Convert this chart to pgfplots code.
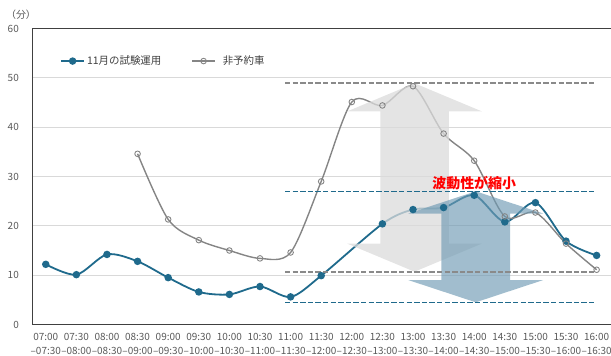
\documentclass[border=0pt]{standalone}
\usepackage{pgfplots}
\pgfplotsset{compat=1.18}
\usepackage{fontspec}
\setmainfont{Noto Sans CJK JP}
\definecolor{serblue}{HTML}{1F6A8C}
\definecolor{sergray}{HTML}{858585}
\definecolor{dashgray}{HTML}{8A8A8A}
\definecolor{tickgray}{HTML}{595959}
\definecolor{gridgray}{HTML}{D9D9D9}
\definecolor{axisdark}{HTML}{404040}
\definecolor{arrowblue}{HTML}{6E9AB3}
\begin{document}
\begin{tikzpicture}
\begin{axis}[
  at={(0bp,0bp)}, anchor=south west,
  scale only axis, width=579bp, height=296bp,
  xmin=-0.45, xmax=18.47, ymin=0, ymax=60,
  ytick={0,10,...,60},
  xtick={0,...,18},
  xticklabels={{07:00\\–07:30},{07:30\\–08:00},{08:00\\–08:30},{08:30\\–09:00},{09:00\\–09:30},{09:30\\–10:00},{10:00\\–10:30},{10:30\\–11:00},{11:00\\–11:30},{11:30\\–12:00},{12:00\\–12:30},{12:30\\–13:00},{13:00\\–13:30},{13:30\\–14:00},{14:00\\–14:30},{14:30\\–15:00},{15:00\\–15:30},{15:30\\–16:00},{16:00\\–16:30}},
  major tick length=0pt,
  axis line style={draw=none},
  ymajorgrids, major grid style={draw=gridgray, line width=0.8bp},
  /pgf/number format/assume math mode=true,
  yticklabel style={anchor=east, inner sep=0pt, xshift=-13bp, font=\fontsize{10}{12}\selectfont, text=tickgray},
  xticklabel style={anchor=north, inner sep=0pt, yshift=-9bp, align=center, font=\fontsize{10}{14}\selectfont, text=tickgray},
  legend style={at={(0.0484,0.890)}, anchor=west, draw=none, fill=none, inner sep=0pt,
    font=\fontsize{10.5}{12}\selectfont, text=axisdark, legend columns=2,
    /tikz/every even column/.append style={column sep=28bp}},
  legend cell align=left,
  legend image code/.code={\draw[mark repeat=2,mark phase=2] plot coordinates {(0bp,0bp)(11.5bp,0bp)(23bp,0bp)};},
]
\addplot[serblue, line width=1.8bp, smooth, tension=0.5, mark=*, mark size=2.8bp, mark options={fill=serblue, draw=serblue}]
 coordinates {(0,12.2)(1,10.1)(2,14.2)(3,12.8)(4,9.5)(5,6.6)(6,6.1)(7,7.7)(8,5.6)(9,9.9)(11,20.4)(12,23.3)(13,23.7)(14,26.2)(15,20.8)(16,24.7)(17,16.9)(18,14.0)};
\addlegendentry{11月の試験運用}
\addplot[sergray, line width=1.4bp, smooth, tension=0.5, mark=o, mark size=2.8bp, mark options={fill=white, draw=sergray, line width=0.9bp}]
 coordinates {(3,34.6)(4,21.3)(5,17.1)(6,15.0)(7,13.4)(8,14.6)(9,29.0)(10,45.1)(11,44.4)(12,48.3)(13,38.7)(14,33.2)(15,21.9)(16,22.7)(17,16.4)(18,11.1)};
\addlegendentry{\hspace{5bp}非予約車}
% arrows
\fill[gray!28, opacity=0.75] (axis cs:12.05,48.9) -- (axis cs:14.25,43.2) -- (axis cs:13.17,43.2) -- (axis cs:13.17,16.4) -- (axis cs:14.25,16.4) -- (axis cs:12.05,10.7) -- (axis cs:9.85,16.4) -- (axis cs:10.93,16.4) -- (axis cs:10.93,43.2) -- (axis cs:9.85,43.2) -- cycle;
\fill[arrowblue, opacity=0.65] (axis cs:14.05,27.0) -- (axis cs:16.25,22.5) -- (axis cs:15.17,22.5) -- (axis cs:15.17,9.0) -- (axis cs:16.25,9.0) -- (axis cs:14.05,4.5) -- (axis cs:11.85,9.0) -- (axis cs:12.93,9.0) -- (axis cs:12.93,22.5) -- (axis cs:11.85,22.5) -- cycle;
% reference dashed lines
\addplot[dashgray, line width=1.6bp, dash pattern=on 5.3bp off 2.3bp, forget plot] coordinates {(7.82,48.9)(18,48.9)};
\addplot[dashgray, line width=1.6bp, dash pattern=on 5.3bp off 2.3bp, forget plot] coordinates {(7.82,10.7)(18,10.7)};
\addplot[serblue, line width=1.6bp, dash pattern=on 5.3bp off 2.3bp, forget plot] coordinates {(7.82,27.0)(18,27.0)};
\addplot[serblue, line width=1.6bp, dash pattern=on 5.3bp off 2.3bp, forget plot] coordinates {(7.82,4.5)(18,4.5)};
\node[text=red, font=\fontsize{14}{16}\selectfont\bfseries] at (axis cs:14.0,28.6) {波動性が縮小};
% axis lines
\draw[axisdark, line width=1.4bp] (rel axis cs:0,1) -- (rel axis cs:0,0) -- (rel axis cs:1,0);
\draw[axisdark, line width=1.4bp] (rel axis cs:0,1) -- (rel axis cs:1,1);
\end{axis}
\node[anchor=center, text=tickgray, font=\fontsize{10}{11}\selectfont] at (-11bp,309.5bp) {（分）};
\pgfresetboundingbox
\path[use as bounding box] (-32bp,-31.5bp) rectangle (579bp,324.5bp);
\end{tikzpicture}
\end{document}
